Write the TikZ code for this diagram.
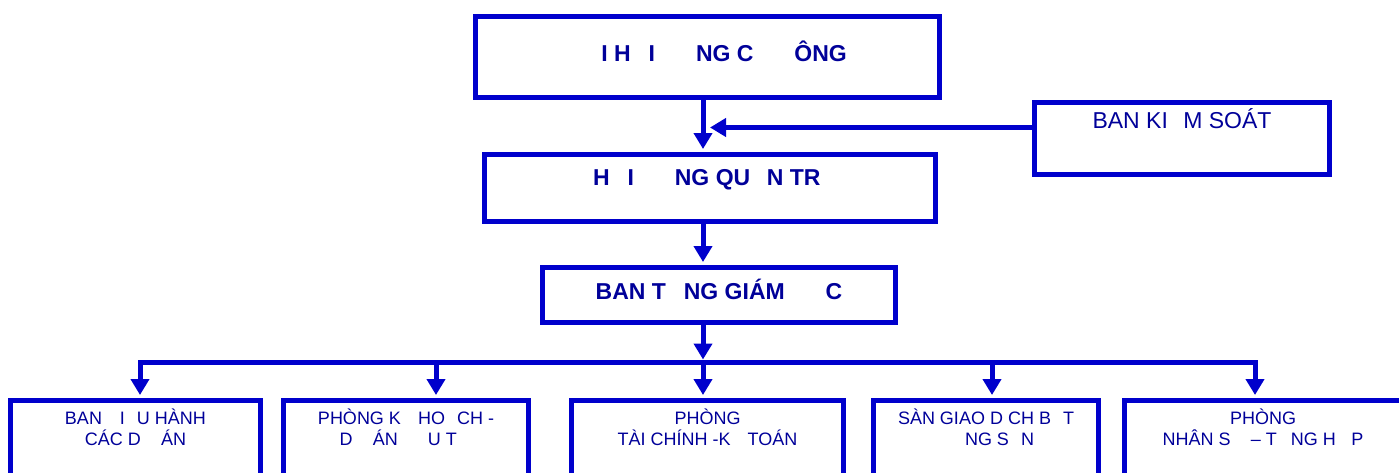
\documentclass[tikz,border=0pt]{standalone}
\usepackage{fontspec}
\setmainfont{Liberation Sans}
\usetikzlibrary{arrows.meta,positioning}
\definecolor{khung}{RGB}{0,0,204}
\definecolor{chu}{RGB}{0,0,153}
\begin{document}
\begin{tikzpicture}[x=1pt,y=-1pt,line join=miter,
    hop/.style={draw=khung,line width=5pt,inner sep=0pt},
    dam/.style={text=chu,inner sep=0pt,font=\fontsize{23}{27}\selectfont\bfseries,text height=16.5pt,text depth=0pt},
    nhat/.style={text=chu,inner sep=0pt,font=\fontsize{23}{27}\selectfont,text height=16.5pt,text depth=0pt},
    nho/.style={text=chu,inner sep=0pt,font=\fontsize{18}{21}\selectfont,align=center,anchor=base},
    mui/.style={draw=khung,line width=5pt,-{Triangle[width=18pt,length=16pt]},shorten >=3pt}]
    \clip (0,0) rectangle (1399,472);
    % cac hop
    \node[hop,minimum width=464pt,minimum height=81pt] (dhcd) at (707.5,57) {};
    \node[hop,minimum width=295pt,minimum height=72pt] (bks) at (1182,138.5) {};
    \node[hop,minimum width=451pt,minimum height=67pt] (hdqt) at (710,188) {};
    \node[hop,minimum width=353pt,minimum height=55pt] (tgd) at (719,295) {};
    \node[dam] (dhcd-t) at ([yshift=3.5pt]dhcd.center) {\hphantom{ĐẠ}I H\hphantom{Ộ}I \hphantom{ĐỒ}NG C\hphantom{Ổ} \hphantom{Đ}ÔNG};
    \node[nhat] (bks-t) at ([yshift=18pt]bks.center) {BAN KI\hphantom{Ể}M SOÁT};
    \node[dam] (hdqt-t) at ([yshift=11pt]hdqt.center) {H\hphantom{Ộ}I \hphantom{ĐỒ}NG QU\hphantom{Ả}N TR\hphantom{Ị}};
    \node[dam] (tgd-t) at ([yshift=3.5pt]tgd.center) {BAN T\hphantom{Ổ}NG GIÁM \hphantom{ĐỐ}C};
    % hang duoi
    \node[hop,minimum width=250pt,minimum height=90pt] (b1) at (135.5,445.5) {};
    \node[hop,minimum width=245pt,minimum height=90pt] (b2) at (406,445.5) {};
    \node[hop,minimum width=272pt,minimum height=90pt] (b3) at (707.5,445.5) {};
    \node[hop,minimum width=225pt,minimum height=90pt] (b4) at (986,445.5) {};
    \node[hop,minimum width=277pt,minimum height=90pt] (b5) at (1263,445.5) {};
    \node[nho] (b1-t) at ([yshift=-47.5pt]b1.north) {BAN \hphantom{Đ}I\hphantom{Ề}U HÀNH\\CÁC D\hphantom{Ự} ÁN};
    \node[nho] (b2-t) at ([yshift=-47.5pt]b2.north) {PHÒNG K\hphantom{Ế} HO\hphantom{Ạ}CH -\\D\hphantom{Ự} ÁN \hphantom{ĐẦ}U T\hphantom{Ư}};
    \node[nho] (b3-t) at ([yshift=-47.5pt]b3.north) {PHÒNG\\TÀI CHÍNH -K\hphantom{Ế} TOÁN};
    \node[nho] (b4-t) at ([yshift=-47.5pt]b4.north) {SÀN GIAO D\hphantom{Ị}CH B\hphantom{Ấ}T\\\hphantom{ĐỘ}NG S\hphantom{Ả}N};
    \node[nho] (b5-t) at ([yshift=-47.5pt]b5.north) {PHÒNG\\NHÂN S\hphantom{Ự} – T\hphantom{Ổ}NG H\hphantom{Ợ}P};
    % cac mui ten
    \coordinate (k) at (707,127.5);
    \coordinate (j1) at (140,362.5);
    \coordinate (j2) at (436,362.5);
    \coordinate (j3) at (703,362.5);
    \coordinate (j4) at (992,362.5);
    \coordinate (j5) at (1255,362.5);
    \draw[mui] (dhcd.south -| j3) -- (hdqt.north -| j3);
    \draw[mui] (bks.west |- k) -- (k);
    \draw[mui] (hdqt.south -| j3) -- (tgd.north -| j3);
    \draw[mui] (tgd.south -| j3) -- (j3);
    \draw[mui] (j3) -| (b1.north -| j1);
    \draw[mui] (j3) -| (b5.north -| j5);
    \foreach \i in {2,3,4}
        \draw[mui] (j\i) -- (b\i.north -| j\i);
\end{tikzpicture}
\end{document}
